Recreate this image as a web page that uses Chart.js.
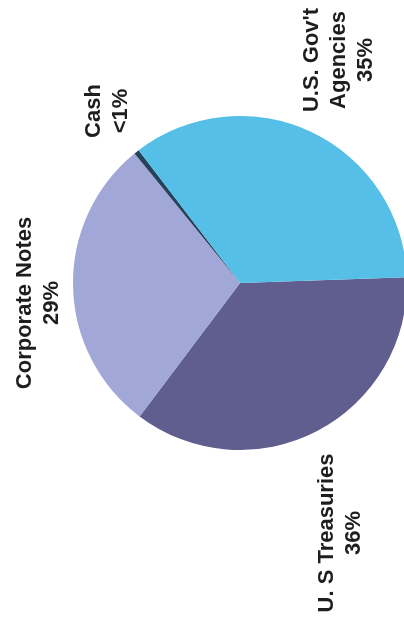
<!DOCTYPE html>
<html>
<head>
<meta charset="utf-8">
<script src="https://cdn.jsdelivr.net/npm/chart.js@4"></script>
<style>
html, body { margin: 0; padding: 0; background: #fff; overflow: hidden; }
#wrap { width: 420px; height: 633px; }
</style>
</head>
<body>
<div id="wrap"><canvas id="myChart" width="420" height="633"></canvas></div>
<script>
var categories = [['U. S Treasuries'], ['Corporate Notes'], ['Cash'], ["U.S. Gov't", 'Agencies']];
var shares = [36, 29, 0.5, 35];
var shareLabels = ['36%', '29%', '<1%', '35%'];
var sliceColors = ['#5f5e8e', '#a1a7d6', '#24425a', '#56bfe8'];

// label spots: x of first baseline, y of text centre (text turned 90 deg)
var labelSpots = [[333, 533], [31, 303], [100, 111], [318, 60]];

var sideLabels = {
    id: 'sideLabels',
    afterDraw: function(chart) {
        var ctx = chart.ctx;
        ctx.save();
        ctx.fillStyle = '#1e1e1e';
        ctx.font = 'bold 22px "Liberation Sans", Arial, sans-serif';
        ctx.textAlign = 'center';
        ctx.textBaseline = 'alphabetic';
        categories.forEach(function(lines, i) {
            var all = lines.concat([shareLabels[i]]);
            ctx.save();
            ctx.translate(labelSpots[i][0], labelSpots[i][1]);
            ctx.rotate(-Math.PI / 2);
            all.forEach(function(t, k) {
                ctx.fillText(t, 0, k * 27);
            });
            ctx.restore();
        });
        ctx.restore();
    }
};

var ctx = document.getElementById('myChart').getContext('2d');
var myChart = new Chart(ctx, {
    type: 'pie',
    data: {
        labels: categories.map(function(l) { return l.join(' '); }),
        datasets: [{
            data: shares,
            backgroundColor: sliceColors,
            borderWidth: 0
        }]
    },
    options: {
        responsive: false,
        animation: false,
        rotation: 88,
        layout: {
            padding: { left: 73, right: 13, top: 116, bottom: 183 }
        },
        plugins: {
            legend: { display: false },
            tooltip: { enabled: false }
        }
    },
    plugins: [sideLabels]
});
</script>
</body>
</html>
